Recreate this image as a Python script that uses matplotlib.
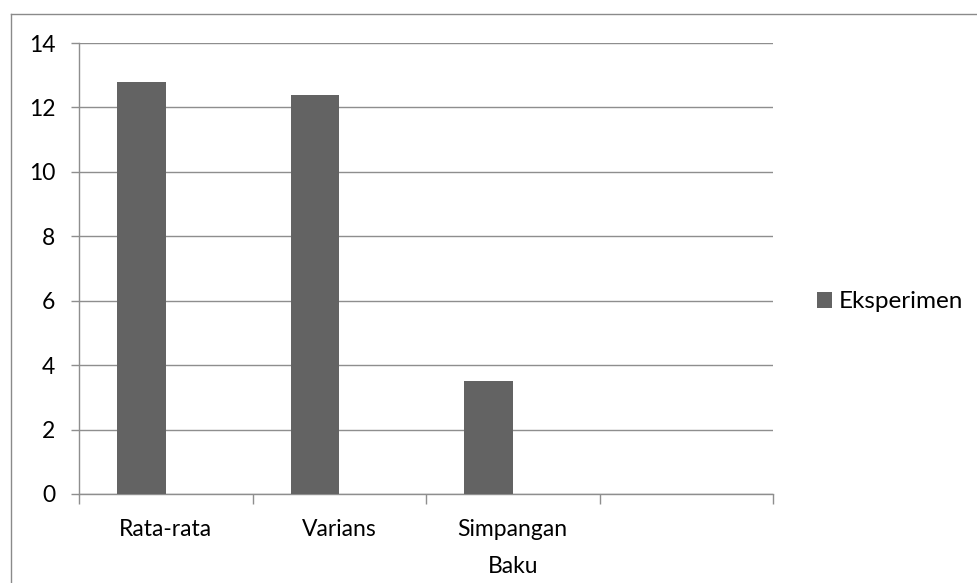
import matplotlib.pyplot as plt
from matplotlib.lines import Line2D
from matplotlib.patches import Patch

plt.rcParams['font.family'] = ['Lato', 'DejaVu Sans']

categories = ['Rata-rata', 'Varians', 'Simpangan\nBaku', '']
eksperimen = [12.8, 12.4, 3.52, 0]
y_ticks = [0, 2, 4, 6, 8, 10, 12, 14]

bar_color = '#636363'
line_color = '#8e8e8e'
fs = 16.5

fig = plt.figure(figsize=(9.77, 5.83), dpi=100)
ax = fig.add_axes([79 / 977, 1 - 494 / 583, (773 - 79) / 977, (494 - 43) / 583])

# clustered slot: the single series sits left of the category centre
centres = [i + 0.5 for i in range(len(categories))]
ax.bar(centres, eksperimen, width=-0.28, align='edge', color=bar_color, zorder=3)

ax.set_xlim(0, len(categories))
ax.set_ylim(0, 14)
ax.set_yticks(y_ticks)
ax.yaxis.grid(True, color=line_color, linewidth=1.0)
ax.set_axisbelow(True)

# category boundaries carry the tick marks, centres carry the labels
ax.set_xticks(range(len(categories) + 1))
ax.set_xticklabels([])
ax.set_xticks(centres, minor=True)
ax.set_xticklabels(categories, minor=True, fontsize=fs, linespacing=1.95)
ax.tick_params(axis='x', which='major', length=7, width=1.0, color=line_color, direction='out')
ax.tick_params(axis='x', which='minor', length=0, pad=18)
ax.tick_params(axis='y', length=6, width=1.0, color=line_color, labelsize=fs, pad=11)

for side in ['top', 'right']:
    ax.spines[side].set_visible(False)
for side in ['left', 'bottom']:
    ax.spines[side].set_color(line_color)
    ax.spines[side].set_linewidth(1.0)

handle = Patch(facecolor=bar_color, edgecolor='none')
fig.legend([handle], ['Eksperimen'], loc='center left', bbox_to_anchor=(817 / 977, 1 - 302 / 583),
           frameon=False, fontsize=17.5, handlelength=0.6, handleheight=0.6, handletextpad=0.3,
           borderpad=0, borderaxespad=0)

# chart area border
bx, by = 10.5 / 977, 1 - 13.5 / 583
fig.add_artist(Line2D([bx, bx], [by, -0.05], color='#8a8a8a', linewidth=1.0, transform=fig.transFigure))
fig.add_artist(Line2D([bx, 1.05], [by, by], color='#8a8a8a', linewidth=1.0, transform=fig.transFigure))

fig.savefig('out.png', dpi=100)
